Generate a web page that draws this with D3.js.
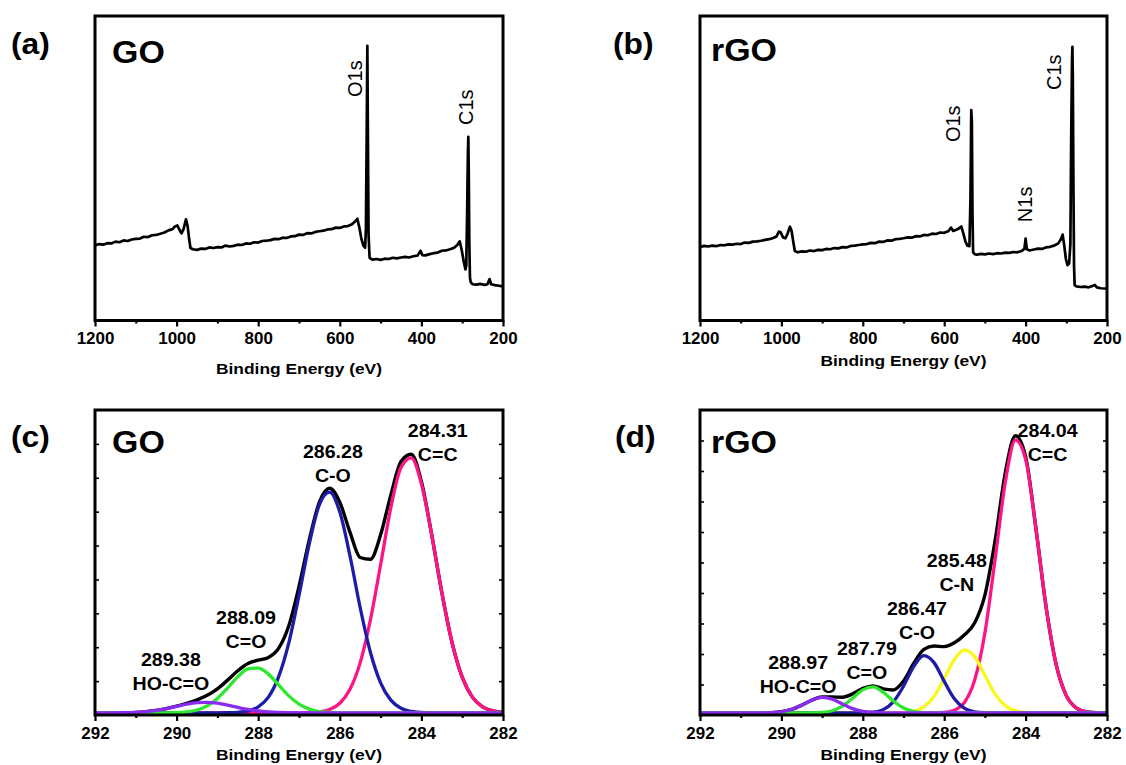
<!DOCTYPE html>
<html><head><meta charset="utf-8">
<script src="https://cdn.jsdelivr.net/npm/d3@7"></script>
<style>body{margin:0;background:#fff}svg{display:block}</style>
</head><body><svg id="chart" width="1126" height="765"></svg>
<script>
// ---------------- DATA ----------------
const panelLetters = ["(a)", "(b)", "(c)", "(d)"];
const sampleNames = ["GO", "rGO", "GO", "rGO"];
const axisTitle = "Binding Energy (eV)";

const surveyMajorTicks = [1200, 1000, 800, 600, 400, 200];
const surveyMinorTicks = [1100, 900, 700, 500, 300];
const hrMajorTicks = [292, 290, 288, 286, 284, 282];
const hrMinorTicks = [291, 289, 287, 285, 283];

// Survey spectra: [binding energy (eV), intensity (a.u.)]
const surveyGO = [
 [1200,24.6],[1190,25.1],[1180,24.9],[1170,25.4],[1160,25.3],[1150,25.9],[1140,25.7],[1130,26.3],[1120,26.1],[1110,26.6],
 [1100,26.8],[1090,26.9],[1080,27.5],[1070,27.4],[1060,28.0],[1050,28.1],[1040,28.5],[1030,28.9],[1020,29.6],[1010,30.0],
 [1004,30.9],[998,31.2],[993,29.8],[988,28.6],[983,30.0],[977,33.2],[973,31.0],[969,26.5],[966,23.8],[960,23.4],
 [950,23.2],[940,23.6],[930,23.5],[920,24.0],[910,23.8],[900,24.1],[890,24.0],[880,24.6],[870,24.3],[860,24.5],
 [850,24.9],[840,24.8],[830,25.3],[820,25.2],[810,25.7],[800,25.6],[790,26.1],[780,26.2],[770,26.4],[760,26.8],
 [750,26.7],[740,27.2],[730,27.1],[720,27.6],[710,27.7],[700,28.2],[690,28.1],[680,28.7],[670,28.6],[660,29.1],
 [650,29.3],[640,29.5],[630,29.9],[620,30.0],[610,30.5],[600,30.4],[590,30.9],[580,31.0],[570,31.6],[563,32.5],
 [557,33.4],[552,30.5],[547,26.8],[542,24.5],[538,23.9],[536,30],[534,62],[532.5,90.2],[531,58],[529.5,28],
 [527,20.6],[520,20.0],[510,20.2],[500,19.9],[490,20.3],[480,20.2],[470,20.6],[460,20.4],[450,20.7],[440,20.9],
 [430,20.7],[420,21.1],[410,21.3],[402,22.9],[398,21.5],[390,21.4],[380,21.8],[370,22.1],[360,22.3],[350,22.9],
 [340,23.0],[330,23.4],[320,23.9],[312,24.8],[306,26.0],[301,23.0],[296,19.2],[292,16.8],[290,18.0],[288,35],
 [286,55],[285,60.3],[284,50],[282.5,25],[281,14],[279,12.6],[275,11.9],[265,11.8],[255,12.0],[245,11.7],
 [238,11.9],[233,13.6],[229,11.9],[220,11.6],[210,11.4],[201,11.2]
];
const surveyRGO = [
 [1200,24.1],[1190,24.5],[1180,24.3],[1170,24.6],[1160,24.4],[1150,24.8],[1140,24.7],[1130,25.0],[1120,24.9],[1110,25.2],
 [1100,25.1],[1090,25.6],[1080,25.5],[1070,25.9],[1060,26.0],[1050,26.2],[1040,26.5],[1030,26.7],[1020,27.1],[1012,27.6],
 [1006,29.2],[1002,29.0],[996,27.3],[990,27.0],[985,28.5],[979,30.8],[975,29.5],[971,26.0],[967,22.8],[960,22.4],
 [950,22.7],[940,22.6],[930,23.0],[920,22.8],[910,23.2],[900,23.1],[890,23.5],[880,23.4],[870,23.8],[860,23.7],
 [850,24.1],[840,24.0],[830,24.5],[820,24.6],[810,24.8],[800,25.0],[790,25.1],[780,25.5],[770,25.4],[760,25.9],
 [750,25.8],[740,26.3],[730,26.2],[720,26.7],[710,26.8],[700,27.0],[690,27.3],[680,27.2],[670,27.7],[660,27.6],
 [650,28.1],[640,28.0],[630,28.5],[620,28.4],[610,28.9],[600,28.8],[590,29.3],[583,30.5],[578,29.4],[570,29.8],
 [563,30.3],[558,30.9],[553,28.6],[548,26.0],[543,24.6],[538,24.4],[535.5,40],[533.5,69.1],[532,65],[530.5,35],
 [529,22.4],[525,21.8],[520,21.6],[510,21.9],[500,21.7],[490,22.0],[480,21.8],[470,22.1],[460,22.0],[450,22.3],
 [440,22.2],[430,22.5],[420,22.4],[410,22.8],[403,23.5],[400,26.9],[397,23.4],[390,23.0],[380,23.3],[370,23.6],
 [360,23.5],[350,24.0],[340,24.2],[330,24.6],[320,25.3],[314,26.5],[309,28.2],[305,24.5],[301,20.2],[297,18.2],
 [293,18.8],[290,25],[288,60],[286,85],[285,89.9],[284,80],[282.5,45],[281,18],[279.5,11.6],[275,11.2],
 [265,11.0],[255,11.1],[245,10.9],[236,11.3],[230,11.7],[225,10.9],[215,10.6],[205,10.5],[201,10.4]
];
// rotated peak labels: anchor at [eV, intensity]
const surveyLabelsGO = [{t:"O1s", e:545.6, v:73.4}, {t:"C1s", e:273.5, v:64.2}];
const surveyLabelsRGO = [{t:"O1s", e:561, v:58.6}, {t:"N1s", e:384, v:32.3}, {t:"C1s", e:313, v:75.7}];

// High-resolution C1s energy grid (eV)
const hrEnergy = [292,291.75,291.5,291.25,291,290.75,290.5,290.25,290,289.75,
 289.5,289.25,289,288.75,288.5,288.25,288,287.75,287.5,287.25,
 287,286.75,286.5,286.25,286,285.75,285.5,285.25,285,284.75,
 284.5,284.25,284,283.75,283.5,283.25,283,282.75,282.5,282.25,282];

// GO C1s fit
const goEnvelope = [0,0,0.03,0.07,0.18,0.41,0.8,1.41,2.21,3.18,
 4.31,5.8,7.94,10.81,13.9,16.28,17.39,18.3,21.28,28.75,
 41.7,57.03,69.59,74.16,69.52,59.6,51.3,50.7,58.8,71.9,
 83.0,85.4,76.4,59.0,39.8,23.3,11.8,5.2,1.97,0.65,0.18];
const goCC = [0,0,0,0,0,0,0,0,0,0, 0,0,0,0,0,0,0,0,0,0,
 0,0.09,0.34,1.12,3.19,7.8,16.6,30.7,48.9,67.7,
 81.0,84.2,75.7,59.0,39.8,23.3,11.8,5.2,1.97,0.65,0.18];
const goCO = [0,0,0,0,0,0,0,0,0,0, 0,0,0,0.04,0.18,0.64,1.97,5.2,11.9,23.1,
 38.8,55.7,68.8,72.9,66.3,51.8,34.7,20.0,9.9,4.2,
 1.53,0.48,0.13,0.03,0,0,0,0,0,0,0];
const goCeqO = [0,0,0,0,0,0,0,0.02,0.09,0.33, 0.95,2.3,4.75,8.2,11.9,14.5,14.8,12.8,9.25,5.6,
 2.9,1.24,0.45,0.14,0.03,0,0,0,0,0, 0,0,0,0,0,0,0,0,0,0,0];
const goHOCO = [0,0,0.03,0.07,0.18,0.41,0.8,1.39,2.12,2.85, 3.36,3.5,3.19,2.57,1.82,1.14,0.62,0.3,0.13,0.05,
 0,0,0,0,0,0,0,0,0,0, 0,0,0,0,0,0,0,0,0,0,0];

// rGO C1s fit
const rgoEnvelope = [0,0,0,0,0,0,0.02,0.09,0.37,1.14,
 2.55,4.23,5.25,5.24,5.16,6.27,8.13,8.92,7.94,7.57,
 10.5,16.3,20.97,22.07,21.88,23.14,25.78,29.74,38.85,56.8,
 79.2,91.5,84.6,61.3,35.3,16.0,5.7,1.6,0.35,0.06,0];
const rgoCC = [0,0,0,0,0,0,0,0,0,0, 0,0,0,0,0,0,0,0,0,0,
 0,0,0,0.03,0.18,0.89,3.5,10.9,26.4,50.6,
 76.1,90.1,83.8,61.3,35.3,16.0,5.7,1.6,0.35,0.06,0];
const rgoCN = [0,0,0,0,0,0,0,0,0,0, 0,0,0,0,0,0,0,0,0,0.02,
 0.11,0.54,1.97,5.4,11.3,17.6,20.8,18.5,12.4,6.2,
 2.4,0.68,0.15,0.02,0,0,0,0,0,0,0];
const rgoCO = [0,0,0,0,0,0,0,0,0,0, 0,0,0,0,0,0,0.03,0.22,1.07,3.65,
 8.8,15.3,18.9,16.6,10.4,4.65,1.48,0.34,0.05,0, 0,0,0,0,0,0,0,0,0,0,0];
const rgoCeqO = [0,0,0,0,0,0,0,0,0,0, 0,0.03,0.16,0.71,2.2,4.85,7.6,8.57,6.85,3.9,
 1.59,0.46,0.1,0.02,0,0,0,0,0,0, 0,0,0,0,0,0,0,0,0,0,0];
const rgoHOCO = [0,0,0,0,0,0,0.02,0.09,0.37,1.14, 2.55,4.2,5.09,4.53,2.96,1.42,0.5,0.13,0.02,0,
 0,0,0,0,0,0,0,0,0,0, 0,0,0,0,0,0,0,0,0,0,0];

// peak annotations [energy, intensity of first-line baseline]
const goPeakLabels = [
 {a:"284.31", b:"C=C", e:283.6, v:91.1},
 {a:"286.28", b:"C-O", e:286.17, v:84.15},
 {a:"288.09", b:"C=O", e:288.3, v:29.35},
 {a:"289.38", b:"HO-C=O", e:290.14, v:15.48}
];
const rgoPeakLabels = [
 {a:"284.04", b:"C=C", e:283.46, v:91.1},
 {a:"285.48", b:"C-N", e:285.69, v:48.16},
 {a:"286.47", b:"C-O", e:286.67, v:32.32},
 {a:"287.79", b:"C=O", e:287.9, v:19.11},
 {a:"288.97", b:"HO-C=O", e:289.59, v:14.49}
];

// ---------------- LAYOUT / STYLE ----------------
const FONT = '"Liberation Sans", Arial, Helvetica, sans-serif';
const SX = 1.06;
const col = {black:"#000", pink:"#ff1486", blue:"#1c1ca6", green:"#2ee62e", purple:"#8a2cf0", yellow:"#f8f81a"};
const L = {
  a:{x0:95, x1:503, y0:16, y1:320.5, titleY:374, lx:11, ly:54, nx:112, ny:63},
  b:{x0:700, x1:1107, y0:16, y1:320.5, titleY:366, lx:613, ly:54, nx:711, ny:61},
  c:{x0:95, x1:503, y0:410, y1:715, titleY:760, lx:11, ly:447, nx:112, ny:453},
  d:{x0:700, x1:1107, y0:410, y1:715, titleY:760, lx:615, ly:447, nx:711, ny:453}
};
const svg = d3.select("#chart");

function sText(g, x, y, str, size, weight, anchor) {
  return g.append("g").attr("transform", `translate(${x},${y}) scale(${SX},1)`)
    .append("text").attr("font-family", FONT).attr("font-size", size)
    .attr("font-weight", weight).attr("text-anchor", anchor || "start").attr("fill", "#000").text(str);
}

function axes(g, P, x, major, minor) {
  const ax = g.append("g").attr("transform", `translate(0,${P.y1})`)
    .call(d3.axisBottom(x).tickValues(major).tickSize(6).tickPadding(6.5).tickFormat(d3.format("d")));
  ax.select(".domain").remove();
  ax.selectAll("line").attr("stroke", "#000").attr("stroke-width", 2.2);
  ax.selectAll("text").attr("font-family", FONT).attr("font-size", 16).attr("font-weight", "bold")
    .attr("fill", "#000").attr("transform", `scale(${SX},1)`);
  const mn = g.append("g").attr("transform", `translate(0,${P.y1})`)
    .call(d3.axisBottom(x).tickValues(minor).tickSize(3).tickFormat(""));
  mn.select(".domain").remove();
  mn.selectAll("line").attr("stroke", "#000").attr("stroke-width", 2.2);
  g.append("text").attr("x", (P.x0 + P.x1) / 2).attr("y", P.titleY).attr("text-anchor", "middle")
    .attr("font-family", FONT).attr("font-size", 15.5).attr("font-weight", "bold")
    .attr("textLength", 166).attr("lengthAdjust", "spacingAndGlyphs").text(axisTitle);
}

function frame(g, P) {
  g.append("rect").attr("x", P.x0).attr("y", P.y0).attr("width", P.x1 - P.x0).attr("height", P.y1 - P.y0)
    .attr("fill", "none").attr("stroke", "#000").attr("stroke-width", 3);
}

function yInnerTicks(g, P, n) {
  const s = d3.scaleLinear().domain([0, n]).range([P.y1, P.y0]);
  const l = g.append("g").attr("transform", `translate(${P.x0},0)`)
    .call(d3.axisRight(s).tickValues(d3.range(1, n)).tickSize(4).tickFormat(""));
  const r = g.append("g").attr("transform", `translate(${P.x1},0)`)
    .call(d3.axisLeft(s).tickValues(d3.range(1, n)).tickSize(4).tickFormat(""));
  [l, r].forEach(a => { a.select(".domain").remove(); a.selectAll("line").attr("stroke", "#000").attr("stroke-width", 1.6); });
}

function labels(g, i, P) {
  sText(g, P.lx, P.ly, panelLetters[i], 30, "bold");
  sText(g, P.nx, P.ny, sampleNames[i], 32, "bold");
}

function survey(i, P, data, peakLabels) {
  const g = svg.append("g");
  const x = d3.scaleLinear().domain([1200, 200]).range([P.x0, P.x1]);
  const y = d3.scaleLinear().domain([0, 100]).range([P.y1, P.y0]);
  g.append("path").datum(data).attr("fill", "none").attr("stroke", "#000").attr("stroke-width", 2.7)
    .attr("stroke-linejoin", "round")
    .attr("d", d3.line().x(d => x(d[0])).y(d => y(d[1])));
  peakLabels.forEach(p => {
    g.append("text").attr("transform", `translate(${x(p.e)},${y(p.v)}) rotate(-90)`)
      .attr("font-family", FONT).attr("font-size", 20).attr("fill", "#000").text(p.t);
  });
  frame(g, P);
  axes(g, P, x, surveyMajorTicks, surveyMinorTicks);
  labels(g, i, P);
}

function highres(i, P, series, peakLabels, nY) {
  const g = svg.append("g");
  const x = d3.scaleLinear().domain([292, 282]).range([P.x0, P.x1]);
  const y = d3.scaleLinear().domain([-0.7, 100]).range([P.y1, P.y0]);
  const line = d3.line().x((d, k) => x(hrEnergy[k])).y(d => y(d)).curve(d3.curveMonotoneX);
  series.forEach(s => {
    g.append("path").datum(s.v).attr("fill", "none").attr("stroke", s.c).attr("stroke-width", s.w)
      .attr("stroke-linejoin", "round").attr("d", line);
  });
  peakLabels.forEach(p => {
    sText(g, x(p.e), y(p.v), p.a, 18.5, "bold", "middle");
    sText(g, x(p.e), y(p.v) + 24, p.b, 18.5, "bold", "middle");
  });
  frame(g, P);
  yInnerTicks(g, P, nY);
  axes(g, P, x, hrMajorTicks, hrMinorTicks);
  labels(g, i, P);
}

survey(0, L.a, surveyGO, surveyLabelsGO);
survey(1, L.b, surveyRGO, surveyLabelsRGO);
highres(2, L.c, [
  {v: goEnvelope, c: col.black, w: 3.4},
  {v: goCC, c: col.pink, w: 3.3},
  {v: goCO, c: col.blue, w: 3.3},
  {v: goCeqO, c: col.green, w: 3.3},
  {v: goHOCO, c: col.purple, w: 3.3}
], goPeakLabels, 9);
highres(3, L.d, [
  {v: rgoEnvelope, c: col.black, w: 3.4},
  {v: rgoCC, c: col.pink, w: 3.3},
  {v: rgoCN, c: col.yellow, w: 3.3},
  {v: rgoCO, c: col.blue, w: 3.3},
  {v: rgoCeqO, c: col.green, w: 3.3},
  {v: rgoHOCO, c: col.purple, w: 3.3}
], rgoPeakLabels, 10);
</script></body></html>
